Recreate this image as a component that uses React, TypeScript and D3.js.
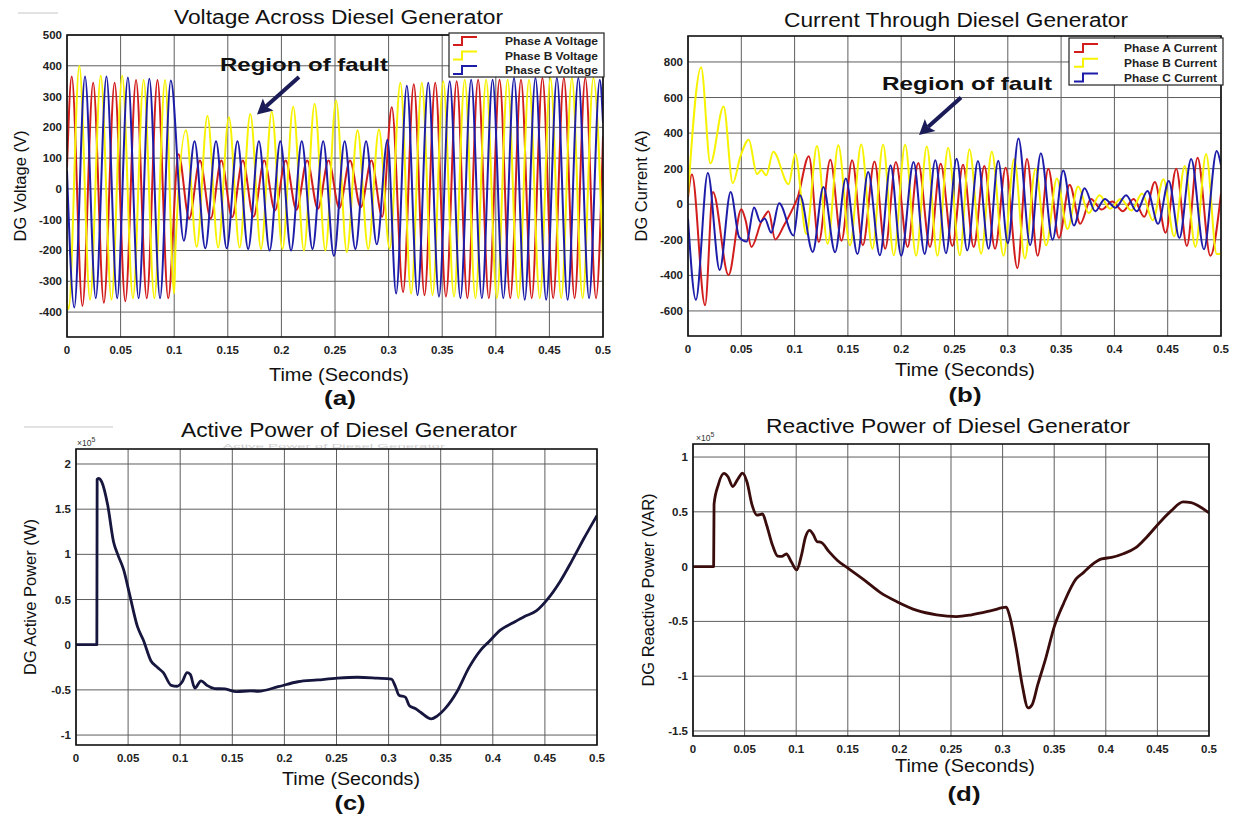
import React from "react";
import * as d3 from "d3";

type Pt = [number, number];

// ---------- shared ticks ----------
const timeTicks = [0, 0.05, 0.1, 0.15, 0.2, 0.25, 0.3, 0.35, 0.4, 0.45, 0.5];
const voltageTicks = [-400, -300, -200, -100, 0, 100, 200, 300, 400, 500];
const currentTicks = [-600, -400, -200, 0, 200, 400, 600, 800];
const activeTicks = [-1, -0.5, 0, 0.5, 1, 1.5, 2];
const reactiveTicks = [-1.5, -1, -0.5, 0, 0.5, 1];

// extremum values read every half cycle (0.01 s) starting at t0
const halfCycles = (t0: number, values: number[]): Pt[] =>
  values.map((v, i) => [t0 + i * 0.01, v] as Pt);

// ---------- (a) voltage extrema (V) ----------
const vA_pre = [365, -380, 345, -370, 345, -365, 354, -355, 354, -355];
const vA_fault = [113, -96, 92, -96, 92, -92, 92, -90, 92, -70, 92, -68, 92, -65, 92, -62, 92, -60, 92, -90];
const vA_post = [-335, 340, -345, 345, -350, 350, -355, 355, -355, 355, -355, 355, -355, 360, -355, 360, -355, 360, -355];

const vB_pre = [-390, 400, -360, 368, -360, 368, -355, 354, -355, 354];
const vB_fault = [191, -188, 237, -190, 233, -190, 243, -195, 251, -195, 267, -200, 276, -200, 287, -205, 191, -195, 193, -195];
const vB_post = [345, -340, 345, -345, 350, -350, 355, -355, 355, -355, 355, -355, 355, -355, 360, -355, 360, -355, 360, -355];

const vC_pre = [-385, 365, -355, 365, -355, 362, -355, 358, -355, 352];
const vC_fault = [-168, 155, -193, 155, -193, 155, -195, 155, -200, 155, -200, 155, -195, 155, -218, 155, -195, 155, -180, 160];
const vC_post = [-340, 335, -345, 345, -350, 350, -355, 355, -355, 355, -355, 360, -360, 360, -360, 360, -360, 360, -355, 355];

const phaseAVoltage: Pt[] = [[0, 70], ...halfCycles(0.0044, vA_pre), ...halfCycles(0.104, vA_fault), [0.303, 265], ...halfCycles(0.3135, vA_post), [0.5, 170]];
const phaseBVoltage: Pt[] = [[0, -370], ...halfCycles(0.0015, vB_pre), [0.1, -340], [0.1012, -190], ...halfCycles(0.111, vB_fault), ...halfCycles(0.311, vB_post)];
const phaseCVoltage: Pt[] = [[0, 60], ...halfCycles(0.0068, vC_pre), ...halfCycles(0.109, vC_fault), ...halfCycles(0.307, vC_post), [0.5, 215]];

// ---------- (b) current extrema (A) ----------
const phaseACurrent: Pt[] = [
  [0, 40], [0.0037, 167], [0.016, -568], [0.0234, 69], [0.038, -398], [0.05, -28], [0.054, -90], [0.0595, -240],
  [0.0688, -98], [0.0725, -60], [0.0755, -40], [0.0818, -198], [0.09, -120], [0.097, -40], [0.103, 40], [0.1134, 270],
  [0.1227, -213], [0.1335, 250], [0.144, -205], [0.154, 247], [0.164, -230], [0.175, 240], [0.185, -250], [0.195, 237],
  [0.206, -240], [0.216, 232], [0.227, -240], [0.237, 228], [0.248, -235], [0.258, 222], [0.268, -240], [0.278, 215],
  [0.288, -250], [0.298, 205], [0.309, -360], [0.318, 255], [0.328, -290], [0.338, 200], [0.348, -190], [0.358, 110],
  [0.368, -110], [0.378, 30], [0.388, -30], [0.398, 15], [0.408, -40], [0.418, 30], [0.428, -70], [0.438, 125],
  [0.448, -160], [0.458, 200], [0.468, -235], [0.478, 262], [0.49, -290], [0.5, 60],
];
const phaseBCurrent: Pt[] = [
  [0, 50], [0.0123, 770], [0.021, 230], [0.0334, 550], [0.042, 118], [0.049, 265], [0.057, 363], [0.0647, 170],
  [0.0688, 192], [0.0734, 163], [0.08, 295], [0.0944, 112], [0.1006, 282], [0.111, -168], [0.121, 328], [0.131, -222],
  [0.141, 332], [0.152, -231], [0.1625, 336], [0.173, -250], [0.183, 335], [0.193, -287], [0.2037, 335], [0.214, -290],
  [0.224, 325], [0.234, -290], [0.244, 316], [0.255, -287], [0.264, 308], [0.275, -278], [0.285, 295], [0.296, -290],
  [0.306, 255], [0.316, -305], [0.326, 200], [0.336, -231], [0.346, 145], [0.356, -139], [0.366, 100], [0.376, -50],
  [0.386, 50], [0.396, -25], [0.406, 30], [0.416, -35], [0.426, 60], [0.436, -90], [0.446, 140], [0.456, -180],
  [0.466, 215], [0.476, -240], [0.486, 283], [0.496, -280], [0.5, -278],
];
const phaseCCurrent: Pt[] = [
  [0, -80], [0.0074, -537], [0.0186, 176], [0.0297, -370], [0.04, 69], [0.048, -185], [0.055, -210], [0.062, -18],
  [0.068, -100], [0.072, -80], [0.078, -160], [0.0855, 5], [0.099, -176], [0.105, 50], [0.117, -268], [0.127, 97],
  [0.138, -270], [0.148, 144], [0.159, -280], [0.169, 181], [0.18, -287], [0.19, 219], [0.2, -290], [0.2116, 237],
  [0.222, -280], [0.232, 247], [0.242, -275], [0.252, 256], [0.262, -260], [0.272, 243], [0.282, -250], [0.291, 245],
  [0.3, -220], [0.31, 370], [0.321, -230], [0.331, 287], [0.342, -200], [0.352, 190], [0.362, -120], [0.372, 90],
  [0.382, -40], [0.391, 30], [0.401, -20], [0.411, 50], [0.421, -40], [0.431, 75], [0.441, -110], [0.451, 130],
  [0.461, -190], [0.472, 255], [0.484, -253], [0.496, 300], [0.5, 220],
];

// ---------- (c) active power (x1e5 W) ----------
const activePower: Pt[] = [
  [0, 0], [0.02, 0], [0.0203, 1.83], [0.0215, 1.84], [0.0248, 1.8], [0.0305, 1.54], [0.036, 1.14], [0.04, 1.0],
  [0.0457, 0.83], [0.051, 0.58], [0.059, 0.2], [0.0647, 0.05], [0.072, -0.18], [0.078, -0.25], [0.0838, -0.31],
  [0.0914, -0.45], [0.097, -0.46], [0.102, -0.41], [0.1066, -0.31], [0.1097, -0.33], [0.114, -0.48], [0.12, -0.4],
  [0.1257, -0.45], [0.133, -0.485], [0.143, -0.49], [0.154, -0.52], [0.1676, -0.51], [0.175, -0.515], [0.194, -0.465],
  [0.213, -0.41], [0.232, -0.39], [0.251, -0.37], [0.27, -0.36], [0.289, -0.37], [0.3027, -0.38], [0.3066, -0.465],
  [0.31, -0.56], [0.316, -0.58], [0.32, -0.675], [0.3256, -0.706], [0.331, -0.75], [0.341, -0.82], [0.3465, -0.79],
  [0.354, -0.71], [0.3656, -0.52], [0.377, -0.256], [0.388, -0.065], [0.396, 0.03], [0.4075, 0.164], [0.419, 0.24],
  [0.43, 0.31], [0.4417, 0.374], [0.453, 0.51], [0.4646, 0.7], [0.476, 0.93], [0.4874, 1.175], [0.5, 1.43],
];

// ---------- (d) reactive power (x1e5 VAR) ----------
const reactivePower: Pt[] = [
  [0, 0], [0.02, 0], [0.0204, 0.57], [0.0243, 0.74], [0.03, 0.85], [0.0339, 0.82], [0.0385, 0.73], [0.0435, 0.8],
  [0.048, 0.854], [0.0524, 0.77], [0.057, 0.57], [0.062, 0.47], [0.0674, 0.48], [0.0713, 0.38], [0.077, 0.196],
  [0.082, 0.096], [0.086, 0.093], [0.0905, 0.115], [0.0955, 0.04], [0.1005, -0.03], [0.105, 0.1], [0.109, 0.27],
  [0.1129, 0.33], [0.1167, 0.29], [0.12, 0.23], [0.1244, 0.22], [0.132, 0.134], [0.14, 0.056], [0.151, -0.02],
  [0.167, -0.13], [0.182, -0.24], [0.1976, -0.32], [0.217, -0.4], [0.236, -0.44], [0.2554, -0.456], [0.27, -0.44],
  [0.29, -0.4], [0.3035, -0.37], [0.307, -0.456], [0.313, -0.736], [0.319, -1.08], [0.3247, -1.29], [0.3286, -1.26],
  [0.334, -1.08], [0.342, -0.83], [0.35, -0.55], [0.3594, -0.33], [0.371, -0.115], [0.3786, -0.053], [0.3864, 0.016],
  [0.396, 0.07], [0.4056, 0.084], [0.417, 0.118], [0.4287, 0.17], [0.44, 0.273], [0.452, 0.4], [0.463, 0.506],
  [0.475, 0.59], [0.4827, 0.584], [0.49, 0.553], [0.5, 0.49],
];

const voltageLegend = ["Phase A Voltage", "Phase B Voltage", "Phase C Voltage"];
const currentLegend = ["Phase A Current", "Phase B Current", "Phase C Current"];

const RED = "#d21d1d";
const YELLOW = "#f7f300";
const BLUE = "#1d1daa";
const FONT = "'Liberation Sans', Arial, Helvetica, sans-serif";

type Series = { data: Pt[]; color: string; width: number };
type TextPos = { x: number; y: number; w: number };
type PanelCfg = {
  id: string;
  left: number; right: number; top: number; bottom: number;
  yDomain: [number, number];
  yTicks: number[];
  title: string; titlePos: TextPos;
  ylabel: string; ylabelX: number;
  xlabelPos: TextPos; tag: string; tagPos: TextPos;
  series: Series[];
  legend?: { labels: string[]; x0: number; x1: number; y0: number; y1: number; rows: number[]; iconX: number; textX: number; textW: number };
  fault?: { tx: number; ty: number; tw: number; ax0: number; ay0: number; ax1: number; ay1: number };
  exponent?: { x: number; y: number };
};

const panels: PanelCfg[] = [
  {
    id: "a", left: 67, right: 603, top: 35, bottom: 337, yDomain: [-481, 500], yTicks: voltageTicks,
    title: "Voltage Across Diesel Generator", titlePos: { x: 338.5, y: 24, w: 329 },
    ylabel: "DG Voltage (V)", ylabelX: 20,
    xlabelPos: { x: 339, y: 381, w: 140 }, tag: "(a)", tagPos: { x: 340, y: 405, w: 32 },
    series: [
      { data: phaseAVoltage, color: RED, width: 2 },
      { data: phaseBVoltage, color: YELLOW, width: 2 },
      { data: phaseCVoltage, color: BLUE, width: 2 },
    ],
    legend: { labels: voltageLegend, x0: 449, x1: 604, y0: 33, y1: 77, rows: [41, 55.5, 70], iconX: 453, textX: 505, textW: 93 },
    fault: { tx: 304, ty: 71, tw: 168, ax0: 299, ay0: 77, ax1: 257, ay1: 114.5 },
  },
  {
    id: "b", left: 688, right: 1221, top: 36, bottom: 336, yDomain: [-741, 946], yTicks: currentTicks,
    title: "Current Through Diesel Generator", titlePos: { x: 956, y: 27, w: 344 },
    ylabel: "DG Current (A)", ylabelX: 641,
    xlabelPos: { x: 965, y: 376, w: 140 }, tag: "(b)", tagPos: { x: 965, y: 402, w: 33 },
    series: [
      { data: phaseACurrent, color: RED, width: 2 },
      { data: phaseBCurrent, color: YELLOW, width: 2 },
      { data: phaseCCurrent, color: BLUE, width: 2 },
    ],
    legend: { labels: currentLegend, x0: 1069, x1: 1223, y0: 38, y1: 85, rows: [48, 62.8, 77.5], iconX: 1074, textX: 1124, textW: 93 },
    fault: { tx: 967, ty: 90, tw: 170, ax0: 961, ay0: 97.5, ax1: 919, ay1: 135 },
  },
  {
    id: "c", left: 76, right: 597, top: 449, bottom: 745, yDomain: [-1.11, 2.166], yTicks: activeTicks,
    title: "Active Power of Diesel Generator", titlePos: { x: 349, y: 437, w: 336 },
    ylabel: "DG Active Power (W)", ylabelX: 30,
    xlabelPos: { x: 351, y: 785, w: 138 }, tag: "(c)", tagPos: { x: 350, y: 810, w: 31 },
    series: [{ data: activePower, color: "#16163e", width: 2.8 }],
    exponent: { x: 77, y: 446 },
  },
  {
    id: "d", left: 693, right: 1209, top: 444, bottom: 736, yDomain: [-1.546, 1.119], yTicks: reactiveTicks,
    title: "Reactive Power of Diesel Generator", titlePos: { x: 948, y: 433, w: 364 },
    ylabel: "DG Reactive Power (VAR)", ylabelX: 648,
    xlabelPos: { x: 965, y: 772, w: 140 }, tag: "(d)", tagPos: { x: 964, y: 801, w: 33 },
    series: [{ data: reactivePower, color: "#3a0c0c", width: 2.8 }],
    exponent: { x: 696, y: 441 },
  },
];

function Arrow({ x0, y0, x1, y1 }: { x0: number; y0: number; x1: number; y1: number }) {
  const dx = x1 - x0, dy = y1 - y0;
  const len = Math.hypot(dx, dy);
  const ux = dx / len, uy = dy / len;
  const head = 15, hw = 8;
  const bx = x1 - ux * head, by = y1 - uy * head;
  const px = -uy, py = ux;
  const pts = [
    [x1, y1],
    [bx + px * hw, by + py * hw],
    [bx + ux * 3, by + uy * 3],
    [bx - px * hw, by - py * hw],
  ];
  return (
    <g>
      <line x1={x0} y1={y0} x2={bx + ux * 3} y2={by + uy * 3} stroke="#1b1b58" strokeWidth={4} />
      <polygon points={pts.map((p) => p.join(",")).join(" ")} fill="#1b1b58" />
    </g>
  );
}

function Panel({ p }: { p: PanelCfg }) {
  const x = d3.scaleLinear().domain([0, 0.5]).range([p.left, p.right]);
  const y = d3.scaleLinear().domain(p.yDomain).range([p.bottom, p.top]);
  const line = d3
    .line<Pt>()
    .x((d) => x(d[0]))
    .y((d) => y(d[1]))
    .curve(d3.curveMonotoneX);
  const cy = (p.top + p.bottom) / 2;
  const clipId = `clip-${p.id}`;
  return (
    <g fontFamily={FONT}>
      <defs>
        <clipPath id={clipId}>
          <rect x={p.left} y={p.top} width={p.right - p.left} height={p.bottom - p.top} />
        </clipPath>
      </defs>
      {timeTicks.map((t) => (
        <line key={"gx" + t} x1={x(t)} x2={x(t)} y1={p.top} y2={p.bottom} stroke="#5e5e5e" strokeWidth={1} />
      ))}
      {p.yTicks.map((v) => (
        <line key={"gy" + v} x1={p.left} x2={p.right} y1={y(v)} y2={y(v)} stroke="#5e5e5e" strokeWidth={1} />
      ))}
      <g clipPath={`url(#${clipId})`}>
        {p.series.map((s, i) => (
          <path key={i} d={line(s.data) || ""} fill="none" stroke={s.color} strokeWidth={s.width} strokeLinejoin="round" />
        ))}
      </g>
      <rect x={p.left} y={p.top} width={p.right - p.left} height={p.bottom - p.top} fill="none" stroke="#111" strokeWidth={1.6} />
      {timeTicks.map((t) => (
        <text key={"tx" + t} x={x(t)} y={p.bottom + 17} textAnchor="middle" fontSize={11.5} fontWeight="bold" fill="#222">
          {String(t)}
        </text>
      ))}
      {p.yTicks.map((v) => (
        <text key={"ty" + v} x={p.left - 5} y={y(v) + 4} textAnchor="end" fontSize={11.5} fontWeight="bold" fill="#222">
          {String(v)}
        </text>
      ))}
      <text x={p.titlePos.x} y={p.titlePos.y} textAnchor="middle" fontSize={20} fill="#111" textLength={p.titlePos.w} lengthAdjust="spacingAndGlyphs">
        {p.title}
      </text>
      <text x={p.ylabelX} y={cy} textAnchor="middle" fontSize={16.5} fill="#111" transform={`rotate(-90 ${p.ylabelX} ${cy})`} dominantBaseline="central">
        {p.ylabel}
      </text>
      <text x={p.xlabelPos.x} y={p.xlabelPos.y} textAnchor="middle" fontSize={18} fill="#111" textLength={p.xlabelPos.w} lengthAdjust="spacingAndGlyphs">
        Time (Seconds)
      </text>
      <text x={p.tagPos.x} y={p.tagPos.y} textAnchor="middle" fontSize={21} fontWeight="bold" fill="#111" textLength={p.tagPos.w} lengthAdjust="spacingAndGlyphs">
        {p.tag}
      </text>
      {p.exponent && (
        <text x={p.exponent.x} y={p.exponent.y} fontSize={8.5} fill="#333">
          ×10
          <tspan fontSize={7} dy={-4}>
            5
          </tspan>
        </text>
      )}
      {p.legend && (
        <g>
          <rect x={p.legend.x0} y={p.legend.y0} width={p.legend.x1 - p.legend.x0} height={p.legend.y1 - p.legend.y0} fill="#fff" stroke="#222" strokeWidth={1.2} />
          {p.legend.labels.map((lab, i) => {
            const ry = p.legend!.rows[i];
            const ix = p.legend!.iconX;
            return (
              <g key={lab}>
                <path d={`M${ix},${ry + 4} H${ix + 9} V${ry - 4} H${ix + 24}`} fill="none" stroke={p.series[i].color} strokeWidth={2} />
                <text x={p.legend!.textX} y={ry + 4} fontSize={11} fontWeight="bold" fill="#222" textLength={p.legend!.textW} lengthAdjust="spacingAndGlyphs">
                  {lab}
                </text>
              </g>
            );
          })}
        </g>
      )}
      {p.fault && (
        <g>
          <text x={p.fault.tx} y={p.fault.ty} textAnchor="middle" fontSize={19} fontWeight="bold" fill="#111" textLength={p.fault.tw} lengthAdjust="spacingAndGlyphs">
            Region of fault
          </text>
          <Arrow x0={p.fault.ax0} y0={p.fault.ay0} x1={p.fault.ax1} y1={p.fault.ay1} />
        </g>
      )}
    </g>
  );
}

export default function App() {
  return (
    <svg width={1235} height={816} viewBox="0 0 1235 816" style={{ position: "absolute", left: 0, top: 0, background: "#fff" }}>
      <rect width={1235} height={816} fill="#fff" />
      <line x1={18} x2={58} y1={13} y2={13} stroke="#e2e2e2" strokeWidth={2} />
      <line x1={24} x2={113} y1={427} y2={427} stroke="#e2e2e2" strokeWidth={2} />
      <text x={334} y={448} textAnchor="middle" fontSize={6} fill="#cfcfcf" fontFamily={FONT} textLength={222} lengthAdjust="spacingAndGlyphs">
        Active Power of Diesel Generator
      </text>
      {panels.map((p) => (
        <Panel key={p.id} p={p} />
      ))}
    </svg>
  );
}
